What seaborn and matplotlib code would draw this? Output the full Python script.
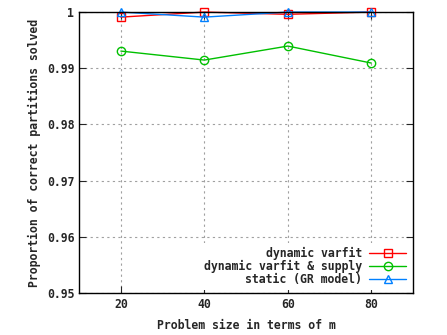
import matplotlib
matplotlib.use("Agg")
import matplotlib.pyplot as plt
import pandas as pd
import seaborn as sns

sizes = [20, 40, 60, 80]
varfit = [0.9991, 1.0, 0.9996, 1.0]
varfit_supply = [0.99306, 0.99146, 0.99395, 0.99093]
static_gr = [1.0, 0.9991, 1.0, 1.0]

series = [
    ("dynamic varfit", varfit, "#ff0000", "s"),
    ("dynamic varfit & supply", varfit_supply, "#00c000", "o"),
    ("static (GR model)", static_gr, "#0080ff", "^"),
]

sns.set_style("ticks")
plt.rcParams["font.family"] = ["DejaVu Sans Mono"]
plt.rcParams["font.weight"] = "bold"
plt.rcParams["font.size"] = 8.3

fig, ax = plt.subplots(figsize=(4.47, 3.35), dpi=100)
fig.subplots_adjust(left=0.177, right=0.924, top=0.964, bottom=0.125)

for name, vals, color, marker in series:
    df = pd.DataFrame({"m": sizes, "p": vals})
    sns.lineplot(data=df, x="m", y="p", ax=ax, color=color, marker=marker,
                 markersize=6, markerfacecolor="none", markeredgecolor=color,
                 markeredgewidth=1, linewidth=1, label=name, clip_on=False)

ax.set_xlim(10, 90)
ax.set_ylim(0.95, 1.0)
ax.set_xticks(sizes)
ax.set_yticks([0.95, 0.96, 0.97, 0.98, 0.99, 1.0])
ax.set_yticklabels(["0.95", "0.96", "0.97", "0.98", "0.99", "1"])
ax.grid(True, color="#a0a0a0", linestyle=(0, (2, 3)), linewidth=0.8)
ax.tick_params(direction="in", top=True, right=True, length=5, width=0.8)
for s in ax.spines.values():
    s.set_linewidth(1)
    s.set_color("black")
ax.set_xlabel("Problem size in terms of m", fontweight="bold", labelpad=6)
ax.set_ylabel("Proportion of correct partitions solved", fontweight="bold")

leg = ax.legend(loc="lower right", markerfirst=False, frameon=True,
                fancybox=False, handlelength=3.2, borderpad=0.3,
                labelspacing=0.02, handletextpad=0.6, borderaxespad=0.3)
leg.get_frame().set_facecolor("white")
leg.get_frame().set_edgecolor("none")
leg.get_frame().set_alpha(1)
for t in leg.get_texts():
    t.set_ha("right")
leg._legend_box.align = "right"

fig.savefig("out.png", dpi=100)
